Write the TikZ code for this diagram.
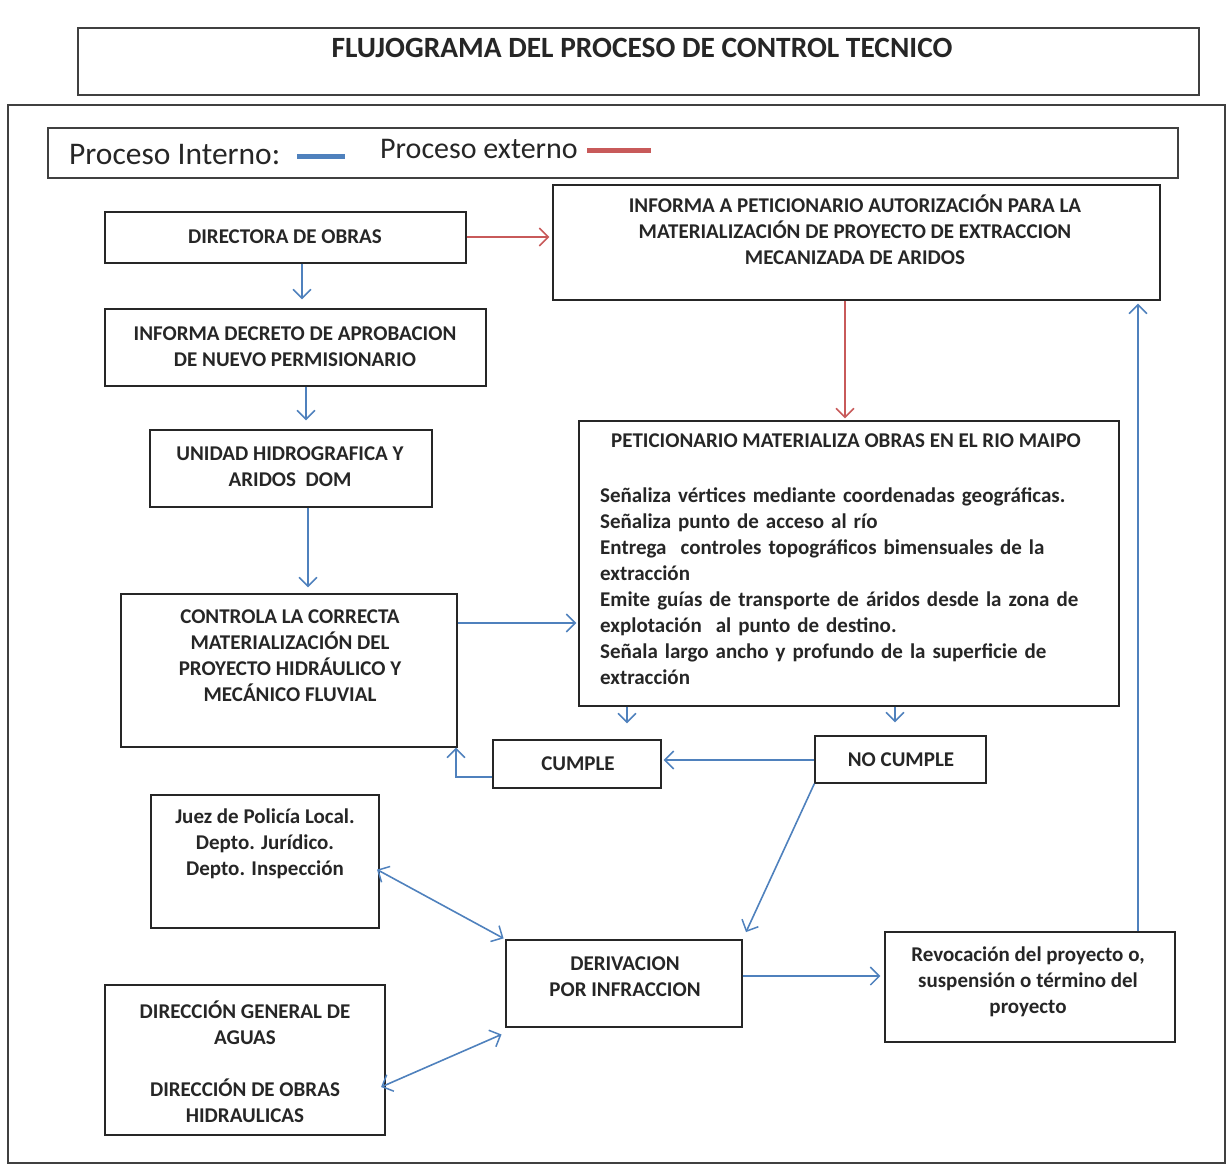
\documentclass[tikz,border=0pt]{standalone}
\usepackage{fontspec}
\setmainfont{Carlito}
\usetikzlibrary{arrows.meta,calc,fit}
\definecolor{ablue}{RGB}{79,129,189}
\definecolor{ared}{RGB}{200,90,90}
\begin{document}
\begin{tikzpicture}[x=1pt,y=-1pt,
  box/.style={draw=black!85, line width=1.3pt, inner sep=0pt},
  frame/.style={draw=black!75, line width=1.3pt, inner sep=0pt},
  txt/.style={font=\bfseries\fontsize{21}{26}\selectfont, align=center, inner sep=0pt, text=black!85},
  tip/.style={-{Straight Barb[length=9pt,width=18pt,line width=1.5pt]}},
  dtip/.style={{Straight Barb[length=9pt,width=18pt,line width=1.5pt]}-{Straight Barb[length=9pt,width=18pt,line width=1.5pt]}},
  barrow/.style={draw=ablue, line width=1.6pt, tip},
  rarrow/.style={draw=ared, line width=1.8pt, tip},
  darrow/.style={draw=ablue, line width=1.6pt, dtip}]
\useasboundingbox (0,0) rectangle (1231,1169);

% frames
\node[frame, fit={(78,28) (1199,95)}] (titlebox) {};
\node[font=\bfseries\fontsize{29.4}{34}\selectfont, inner sep=0pt, text=black!85] (titlet) at (642,48) {FLUJOGRAMA DEL PROCESO DE CONTROL TECNICO};
\node[frame, fit={(8,105) (1225,1163)}] (outer) {};
\node[frame, fit={(48,128) (1178,178)}] (legend) {};
\node[anchor=west, font=\fontsize{31.5}{36}\selectfont, inner sep=0pt, text=black!85] (leg1) at (69,155) {Proceso Interno:};
\node[anchor=west, font=\fontsize{30}{36}\selectfont, inner sep=0pt, text=black!85] (leg2) at (380,149) {Proceso externo};
\draw[ablue, line width=5pt] (297,157) -- (345,157);
\draw[ared, line width=5pt] (587,151) -- (651,151);

% boxes
\node[box, fit={(105,212) (466,263)}] (dir) {};
\node[txt] (dirt) at (285,237) {DIRECTORA DE OBRAS};

\node[box, fit={(553,185) (1160,300)}] (inf) {};
\node[txt] (inft) at (855,230) {INFORMA A PETICIONARIO AUTORIZACIÓN PARA LA\\MATERIALIZACIÓN DE PROYECTO DE EXTRACCION\\MECANIZADA DE ARIDOS};

\node[box, fit={(105,309) (486,386)}] (decr) {};
\node[txt] (decrt) at (295,347) {INFORMA DECRETO DE APROBACION\\DE NUEVO PERMISIONARIO};

\node[box, fit={(150,430) (432,507)}] (unid) {};
\node[txt] (unidt) at (290,467) {UNIDAD HIDROGRAFICA Y\\ARIDOS\ \ DOM};

\node[box, fit={(121,594) (457,747)}] (ctrl) {};
\node[txt] (ctrlt) at (290,656) {CONTROLA LA CORRECTA\\MATERIALIZACIÓN DEL\\PROYECTO HIDRÁULICO Y\\MECÁNICO FLUVIAL};

\node[box, fit={(579,421) (1119,706)}] (pet) {};
\node[txt] (pett) at (846,441) {PETICIONARIO MATERIALIZA OBRAS EN EL RIO MAIPO};
\node[anchor=north west, inner sep=0pt, text width=498pt, align=left,
      font=\bfseries\fontsize{21}{26}\selectfont, text=black!85] (petb) at (600,488)
 {Señaliza vértices mediante coordenadas geográficas.\\
  Señaliza punto de acceso al río\\
  \makebox[498pt][s]{Entrega\ \ controles topográficos bimensuales de la}\\
  extracción\\
  \makebox[498pt][s]{Emite guías de transporte de áridos desde la zona de}\\
  explotación\ \ al punto de destino.\\
  \makebox[498pt][s]{Señala largo ancho y profundo de la superficie de}\\
  extracción};

\node[box, fit={(493,740) (661,788)}] (cumple) {};
\node[txt] (cumplet) at (578,764) {CUMPLE};

\node[box, fit={(815,736) (986,783)}] (nocumple) {};
\node[txt] (nocumplet) at (901,760) {NO CUMPLE};

\node[box, fit={(151,795) (379,928)}] (juez) {};
\node[txt] (juezt) at (265,844) {Juez de Policía Local.\\Depto. Jurídico.\\Depto. Inspección};

\node[box, fit={(506,940) (742,1027)}] (deriv) {};
\node[txt] (derivt) at (625,977) {DERIVACION\\POR INFRACCION};

\node[box, fit={(885,932) (1175,1042)}] (revo) {};
\node[txt] (revot) at (1028,982) {Revocación del proyecto o,\\suspensión o término del\\proyecto};

\node[box, fit={(105,985) (385,1135)}] (dga) {};
\node[txt] (dgat) at (245,1062) {DIRECCIÓN GENERAL DE\\AGUAS\\[26pt]DIRECCIÓN DE OBRAS\\HIDRAULICAS};

% helper coordinates
\coordinate (x302) at (302,0);
\coordinate (x306) at (306,0);
\coordinate (x308) at (308,0);
\coordinate (x845) at (845,0);
\coordinate (x627) at (627,0);
\coordinate (x895) at (895,0);
\coordinate (x456) at (456,0);
\coordinate (x1138) at (1138,0);
\coordinate (y237) at (0,237);
\coordinate (y760) at (0,760);
\coordinate (y623) at (0,623);
\coordinate (y777) at (0,777);
\coordinate (y871) at (0,871);
\coordinate (y1085) at (0,1085);
\coordinate (y976) at (0,976);

% connectors
\draw[rarrow, shorten >=3pt] (dir.east |- y237) -- (inf.west |- y237);
\draw[barrow, shorten >=9pt] (dir.south -| x302) -- (decr.north -| x302);
\draw[barrow, shorten >=9pt] (decr.south -| x306) -- (unid.north -| x306);
\draw[barrow, shorten >=6pt] (unid.south -| x308) -- (ctrl.north -| x308);
\draw[barrow, shorten >=2pt] (ctrl.east |- y623) -- (pet.west |- y623);
\draw[rarrow, shorten >=2pt] (inf.south -| x845) -- (pet.north -| x845);
\draw[barrow, shorten >=16pt] (pet.south -| x627) -- (cumple.north -| x627);
\draw[barrow, shorten >=13pt] (pet.south -| x895) -- (nocumple.north -| x895);
\draw[barrow, shorten >=2pt] (nocumple.west |- y760) -- (cumple.east |- y760);
\draw[barrow] (cumple.west |- y777) -| (ctrl.south -| x456);
\draw[darrow, shorten <=-3pt, shorten >=2pt] (juez.east |- y871) -- (deriv.north west);
\draw[darrow, shorten <=-5pt, shorten >=2pt] (dga.east |- y1085) -- ($(deriv.south west)+(-2,6)$);
\draw[barrow, shorten >=8pt] (nocumple.south west) -- (deriv.north east);
\draw[barrow, shorten >=4pt] (deriv.east |- y976) -- (revo.west |- y976);
\draw[barrow, shorten >=3pt] (revo.north -| x1138) -- (inf.south -| x1138);
\end{tikzpicture}
\end{document}
